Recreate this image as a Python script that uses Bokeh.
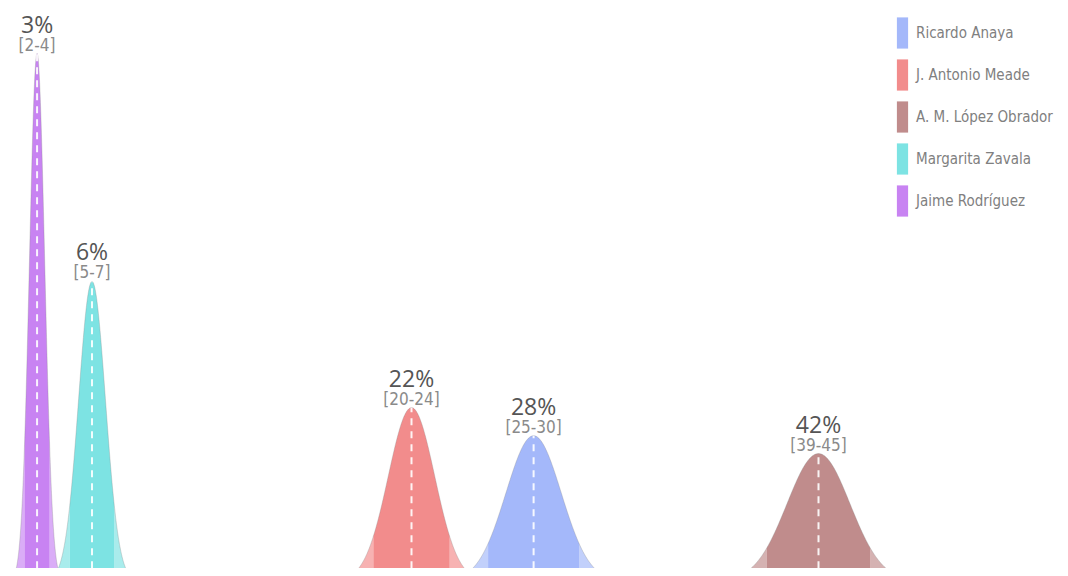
import numpy as np
from bokeh.plotting import figure
from bokeh.models import Range1d, Legend, LegendItem, ColumnDataSource
from bokeh.core.properties import value
from bokeh.embed import file_html
from bokeh.resources import INLINE

# ---- data ----
candidates = ["Ricardo Anaya", "J. Antonio Meade", "A. M. López Obrador",
              "Margarita Zavala", "Jaime Rodríguez"]
means = [28.0, 22.0, 42.0, 6.3, 3.6]          # % vote (curve centre)
sds = [1.36, 1.14, 1.55, 0.66, 0.375]          # spread of each curve, % points
pct_labels = ["28%", "22%", "42%", "6%", "3%"]
interval_labels = ["[25-30]", "[20-24]", "[39-45]", "[5-7]", "[2-4]"]
colors = ["#9ab0f9", "#f17f7f", "#b97f7f", "#6fe0e0", "#c276f1"]
band_z = 1.645   # central 90% band

COND = "'DejaVu Sans Condensed', 'Liberation Sans Narrow', Roboto, sans-serif"

p = figure(width=1060, height=568, output_backend="svg", toolbar_location=None,
           x_axis_location=None, y_axis_location=None,
           x_range=Range1d(1.803, 53.892), y_range=Range1d(0.0256, 1.1708),
           min_border=0, min_border_left=0, min_border_right=0,
           min_border_top=0, min_border_bottom=0)
p.grid.visible = False
p.outline_line_color = None
p.background_fill_color = "white"

legend_items = []
peaks = []
for name, m, s, c in zip(candidates, means, sds, colors):
    f = lambda v: np.exp(-0.5 * ((v - m) / s) ** 2) / (s * np.sqrt(2 * np.pi))
    xs = np.union1d(np.linspace(m - 5 * s, m + 5 * s, 600), [m])
    lo, hi = m - band_z * s, m + band_z * s
    xl = np.append(xs[xs <= lo], lo)
    xm = np.concatenate([[lo], xs[(xs > lo) & (xs < hi)], [hi]])
    xr = np.insert(xs[xs >= hi], 0, hi)
    p.varea(x=xl, y1=0 * xl, y2=f(xl), fill_color=c, fill_alpha=0.6)
    p.varea(x=xr, y1=0 * xr, y2=f(xr), fill_color=c, fill_alpha=0.6)
    r = p.varea(x=xm, y1=0 * xm, y2=f(xm), fill_color=c, fill_alpha=0.9)
    p.line(xs, f(xs), line_color="#888888", line_alpha=0.3, line_width=1)
    pk = float(f(m))
    peaks.append(pk)
    p.segment(x0=[m], y0=[0], x1=[m], y1=[pk], line_color="white",
              line_width=2, line_dash="7 6", line_alpha=0.9)
    legend_items.append(LegendItem(label=name, renderers=[r]))

src = ColumnDataSource(dict(x=means, y=peaks, pct=pct_labels, iv=interval_labels))
p.text(x="x", y="y", text="pct", source=src, text_align="center",
       text_baseline="alphabetic", y_offset=-30, text_font=value("Open Sans"),
       text_font_size="23px", text_color="#555555")
p.text(x="x", y="y", text="iv", source=src, text_align="center",
       text_baseline="alphabetic", y_offset=-9, text_font=value(COND),
       text_font_size="17px", text_color="#8a8a8a")

legend = Legend(items=legend_items, location=(895, 348),
                glyph_width=14, glyph_height=39, spacing=3, label_standoff=7,
                label_text_font=COND, label_text_font_size="15px",
                label_text_color="#808080", padding=0, margin=0,
                border_line_alpha=0, background_fill_alpha=0)
p.add_layout(legend)

open("out.html", "w").write(file_html(p, INLINE))
